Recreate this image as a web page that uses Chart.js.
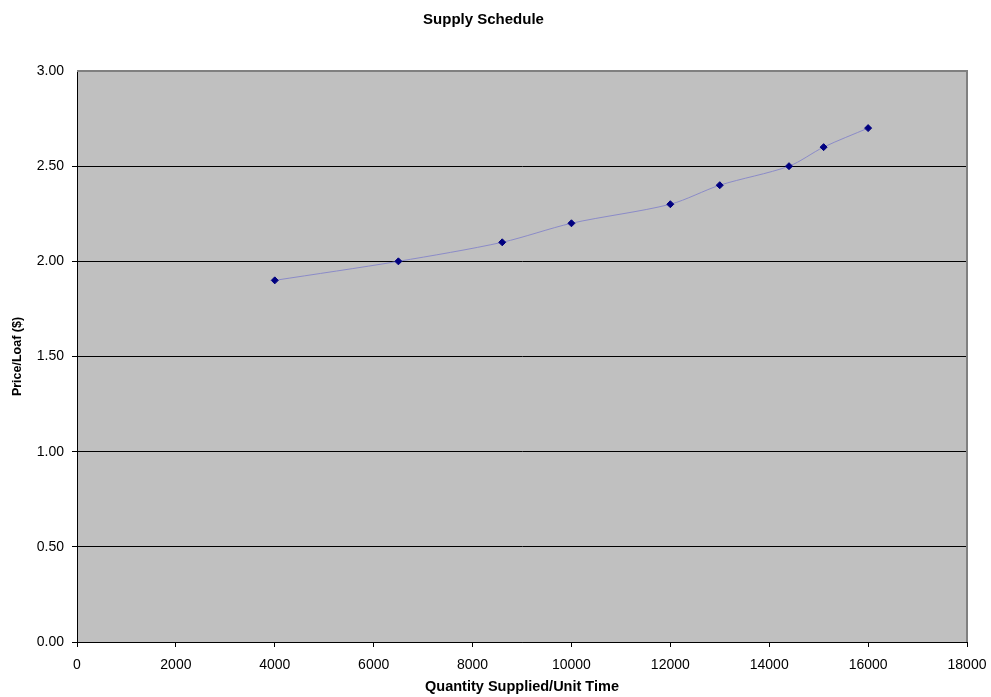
<!DOCTYPE html>
<html>
<head>
<meta charset="utf-8">
<title>Supply Schedule</title>
<script src="https://cdn.jsdelivr.net/npm/chart.js@4/dist/chart.umd.min.js"></script>
<style>
  html, body { margin: 0; padding: 0; background: #ffffff; }
  #wrap { width: 991px; height: 697px; position: relative; }
</style>
</head>
<body>
<div id="wrap"><canvas id="chart"></canvas></div>
<script>
// Supply schedule: quantity supplied per unit time at each price per loaf
const quantities = [4000, 6500, 8600, 10000, 12000, 13000, 14400, 15100, 16000];
const prices = [1.90, 2.00, 2.10, 2.20, 2.30, 2.40, 2.50, 2.60, 2.70];

const xTicks = [0, 2000, 4000, 6000, 8000, 10000, 12000, 14000, 16000, 18000];
const yTicks = [0, 0.5, 1.0, 1.5, 2.0, 2.5, 3.0];

const FONT = '"Liberation Sans", Arial, sans-serif';

// Grey plot background with a grey frame on the top and right
const plotFrame = {
  id: 'plotFrame',
  beforeDraw(chart) {
    const { ctx, chartArea: a } = chart;
    ctx.save();
    ctx.fillStyle = '#c0c0c0';
    ctx.fillRect(a.left, a.top, a.right - a.left, a.bottom - a.top);
    ctx.restore();
  },
  afterDatasetsDraw(chart) {
    const { ctx, chartArea: a } = chart;
    ctx.save();
    ctx.strokeStyle = '#808080';
    ctx.lineWidth = 2;
    ctx.beginPath();
    ctx.moveTo(a.left, a.top);
    ctx.lineTo(a.right, a.top);
    ctx.lineTo(a.right, a.bottom);
    ctx.stroke();
    ctx.restore();
  }
};

new Chart(document.getElementById('chart'), {
  type: 'scatter',
  data: {
    datasets: [{
      label: 'Supply',
      data: quantities.map((q, i) => ({ x: q, y: prices[i] })),
      showLine: true,
      tension: 0.3,
      borderColor: '#8b8bc8',
      borderWidth: 1,
      pointStyle: 'rectRot',
      pointRadius: 3.5,
      pointHoverRadius: 3.5,
      pointBackgroundColor: '#000080',
      pointBorderColor: '#000080',
      pointBorderWidth: 1
    }]
  },
  plugins: [plotFrame],
  options: {
    responsive: true,
    maintainAspectRatio: false,
    animation: false,
    layout: { padding: { left: 0, right: 24, top: 0, bottom: 0 } },
    plugins: {
      legend: { display: false },
      tooltip: { enabled: false },
      title: {
        display: true,
        text: 'Supply Schedule',
        color: '#000000',
        font: { family: FONT, size: 15, weight: 'bold' },
        padding: { top: 11, bottom: 42 }
      }
    },
    scales: {
      x: {
        type: 'linear',
        min: 0,
        max: 18000,
        afterBuildTicks(scale) { scale.ticks = xTicks.map(v => ({ value: v })); },
        afterFit(scale) {
          scale.height = 55;
          scale.paddingLeft = 0;
          scale.paddingRight = 0;
        },
        ticks: {
          color: '#000000',
          font: { family: FONT, size: 14 },
          padding: 10,
          maxRotation: 0,
          autoSkip: false,
          callback: v => String(v)
        },
        grid: {
          drawOnChartArea: false,
          drawTicks: true,
          tickLength: 5,
          color: '#000000'
        },
        border: { display: true, color: '#000000', width: 1 },
        title: {
          display: true,
          text: 'Quantity Supplied/Unit Time',
          color: '#000000',
          font: { family: FONT, size: 14.5, weight: 'bold' },
          padding: { top: 0, bottom: 1 }
        }
      },
      y: {
        type: 'linear',
        min: 0,
        max: 3,
        afterBuildTicks(scale) { scale.ticks = yTicks.map(v => ({ value: v })); },
        afterFit(scale) { scale.width = 77; },
        ticks: {
          color: '#000000',
          font: { family: FONT, size: 14 },
          padding: 8,
          autoSkip: false,
          callback: v => Number(v).toFixed(2)
        },
        grid: {
          drawTicks: true,
          tickLength: 5,
          color: ctx => (ctx.tick && ctx.tick.value === 3 ? 'rgba(0,0,0,0)' : '#000000'),
          lineWidth: 1
        },
        border: { display: true, color: '#000000', width: 1 },
        title: {
          display: true,
          text: 'Price/Loaf ($)',
          color: '#000000',
          font: { family: FONT, size: 12.5, weight: 'bold' },
          padding: { top: 10.5, bottom: 0 }
        }
      }
    }
  }
});
</script>
</body>
</html>
